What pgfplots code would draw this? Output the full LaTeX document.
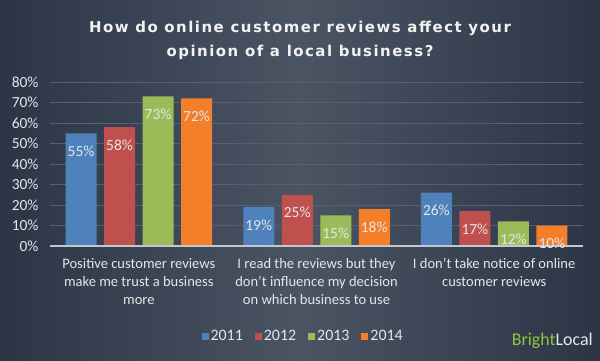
\documentclass[border=0pt]{standalone}
\usepackage{fontspec}
\setmainfont{Carlito}
\newfontfamily\titlefont[LetterSpace=10]{DejaVu Sans}
\usepackage{pgfplots}
\pgfplotsset{compat=1.18}
\definecolor{bgedge}{HTML}{2C3545}
\definecolor{bgmid}{HTML}{4A5463}
\definecolor{cblue}{HTML}{4F81BD}
\definecolor{cred}{HTML}{C0504D}
\definecolor{cgreen}{HTML}{9BBB59}
\definecolor{corange}{HTML}{F47F2A}
\definecolor{txt}{HTML}{E4E6E9}
\definecolor{gridc}{HTML}{566170}
\definecolor{blgreen}{HTML}{8DC63F}
\begin{document}
\begin{tikzpicture}[x=1bp,y=1bp]
\useasboundingbox (0,0) rectangle (600,360);
\shade[left color=bgedge, right color=bgedge, middle color=bgmid] (0,0) rectangle (600,360);
\node[align=center, text=white!95!black, font=\titlefont\bfseries\fontsize{15}{24}\selectfont] at (300,320) {How do online customer reviews affect your\\opinion of a local business?};
\begin{axis}[
  at={(50bp,114bp)}, anchor=south west,
  scale only axis, width=533bp, height=164bp,
  ybar=7.5bp, bar width=31bp,
  xmin=-0.5, xmax=2.5, ymin=0, ymax=80,
  ytick={0,10,...,80},
  yticklabel={\pgfmathprintnumber{\tick}\%},
  /pgf/number format/assume math mode=true,
  xtick={0,1,2},
  xticklabels={{Positive customer reviews\\make me trust a business\\more},{I read the reviews but they\\don't influence my decision\\on which business to use},{I don't take notice of online\\customer reviews}},
  xticklabel style={align=center, text=txt, font=\fontsize{14.6}{18}\selectfont, anchor=north, yshift=-9bp},
  yticklabel style={text=txt, font=\fontsize{15.5}{16}\selectfont, xshift=-8bp},
  major tick length=0pt,
  axis line style={draw=none},
  ymajorgrids, grid style={gridc, line width=0.8bp},
  axis x line*=bottom,
  x axis line style={draw=none},
  enlargelimits=false,
  nodes near coords={\pgfmathprintnumber{\pgfplotspointmeta}\%},
  every node near coord/.append style={anchor=north, yshift=-9bp, text=txt, font=\fontsize{15.5}{16}\selectfont},
  legend columns=4,
  legend style={at={(0.475,-0.549)}, anchor=center, draw=none, fill=none, text=txt, font=\fontsize{16}{16}\selectfont, /tikz/every even column/.append style={column sep=10bp}},
  legend image code/.code={\fill[#1] (0bp,-3.5bp) rectangle (7bp,3.5bp);},
]
\addplot[fill=cblue, draw=none] coordinates {(0,55) (1,19) (2,26)};
\addplot[fill=cred, draw=none] coordinates {(0,58) (1,25) (2,17)};
\addplot[fill=cgreen, draw=none] coordinates {(0,73) (1,15) (2,12)};
\addplot[fill=corange, draw=none] coordinates {(0,72) (1,18) (2,10)};
\legend{2011,2012,2013,2014}
\draw[color=white!65!gridc, line width=1.5bp] (axis cs:-0.5,0) -- (axis cs:2.5,0);
\end{axis}
\node[anchor=east, font=\fontsize{18}{18}\selectfont, inner sep=0pt] at (593,19) {\textcolor{blgreen}{Bright}\textcolor{txt}{Local}};
\end{tikzpicture}
\end{document}
